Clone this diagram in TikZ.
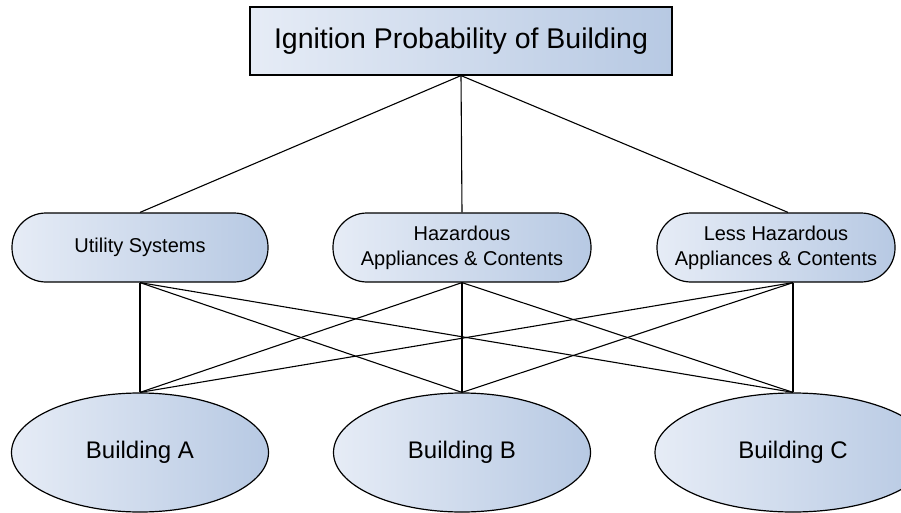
\documentclass[tikz,border=0pt]{standalone}
\usepackage{fontspec}
\setmainfont{Liberation Sans}
\usetikzlibrary{positioning,shapes.geometric}
\definecolor{fillleft}{HTML}{E6ECF6}
\definecolor{fillright}{HTML}{B7C9E3}

\begin{document}
\begin{tikzpicture}[x=1pt,y=-1pt,
    boxfill/.style={draw,line width=1.2pt,left color=fillleft,right color=fillright},
    topbox/.style={boxfill,rectangle,minimum width=422pt,minimum height=68pt,font=\fontsize{28.5}{34}\selectfont},
    factor/.style={boxfill,rectangle,rounded corners=34pt,minimum height=69pt,align=center,font=\fontsize{20}{25}\selectfont},
    building/.style={boxfill,ellipse,inner sep=0pt,minimum height=119pt,font=\fontsize{24}{29}\selectfont},
    link/.style={line width=1.1pt}]
  \path[use as bounding box,clip] (0,0) rectangle (901,513);

  % goal
  \node[topbox] (ignition) at (461,41) {Ignition Probability of Building};

  % criteria
  \node[factor,minimum width=256pt] (utility) at (140,247.5) {Utility Systems};
  \node[factor,minimum width=258pt] (hazard) at (462,247.5) {Hazardous\\Appliances \& Contents};
  \node[factor,minimum width=238pt] (less) at (776,247.5) {Less Hazardous\\Appliances \& Contents};

  % alternatives
  \node[building,minimum width=257pt] (ba) at (140,452.5) {Building A};
  \node[building,minimum width=257pt] (bb) at (462,452.5) {Building B};
  \node[building,minimum width=276pt] (bc) at (793,452.5) {Building C};

  \coordinate (lesstop) at ([xshift=-5pt]less.north -| bc.north);
  \coordinate (lessbot) at (less.south -| bc.north);

  \draw[link] (ignition.south) -- (utility.north);
  \draw[link] (ignition.south) -- (hazard.north);
  \draw[link] (ignition.south) -- (lesstop);

  \foreach \src in {utility.south,hazard.south,lessbot}
    \foreach \dst in {ba,bb,bc}
      \draw[link] (\src) -- (\dst.north);
\end{tikzpicture}
\end{document}
